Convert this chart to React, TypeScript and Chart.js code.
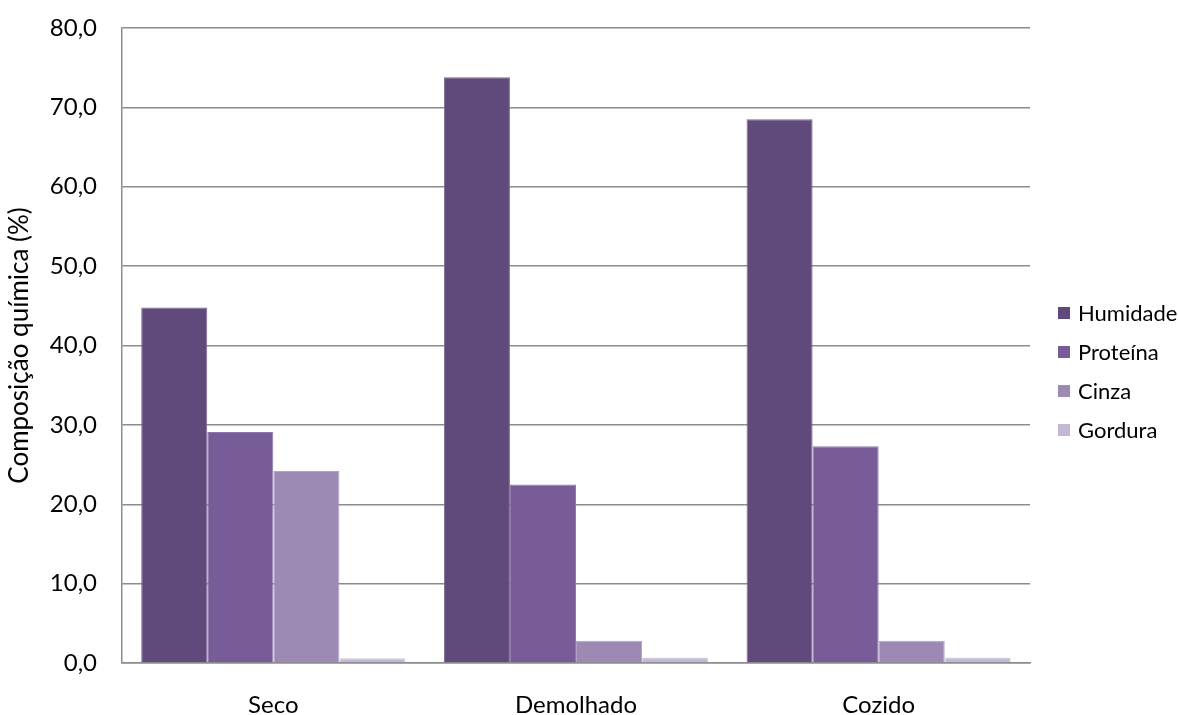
import React, { useEffect, useRef } from "react";
import { Chart, registerables } from "chart.js";

Chart.register(...registerables);

// Composição química por tratamento
const categories = ["Seco", "Demolhado", "Cozido"];
const seriesNames = ["Humidade", "Proteína", "Cinza", "Gordura"];
const humidade = [44.8, 73.8, 68.5];
const proteina = [29.1, 22.5, 27.3];
const cinza = [24.2, 2.8, 2.8];
const gordura = [0.6, 0.7, 0.7];
const seriesColors = ["#604a7b", "#775c98", "#9c8ab4", "#c3b9d4"];
const seriesBorders = ["#7a6893", "#8e78ab", "#b1a2c5", "#d4ccdf"];
const yTicks = [0, 10, 20, 30, 40, 50, 60, 70, 80];

const FONT = "Lato, 'Open Sans', sans-serif";

// Legend drawn to the right of the plot area
const sideLegend = {
  id: "sideLegend",
  afterDraw(chart: any) {
    const ctx = chart.ctx;
    ctx.save();
    ctx.font = `22px ${FONT}`;
    ctx.textBaseline = "middle";
    ctx.textAlign = "left";
    chart.data.datasets.forEach((ds: any, i: number) => {
      const y = 313 + i * 39;
      ctx.fillStyle = ds.backgroundColor;
      ctx.fillRect(1058, y - 6, 12, 12);
      ctx.fillStyle = "#000000";
      ctx.fillText(ds.label, 1078, y + 1);
    });
    ctx.restore();
  },
};

export default function App() {
  const canvasRef = useRef<HTMLCanvasElement | null>(null);

  useEffect(() => {
    const canvas = canvasRef.current;
    if (!canvas) return;
    const values = [humidade, proteina, cinza, gordura];
    const chart = new Chart(canvas, {
      type: "bar",
      data: {
        labels: categories,
        datasets: seriesNames.map((name, i) => ({
          label: name,
          data: values[i],
          backgroundColor: seriesColors[i],
          borderColor: seriesBorders[i],
          borderWidth: 1,
          borderSkipped: "bottom",
          categoryPercentage: 0.873,
          barPercentage: 1.0,
        })),
      },
      options: {
        animation: false,
        responsive: false,
        maintainAspectRatio: false,
        layout: { padding: { left: 0, right: 148, top: 28, bottom: 0 } },
        plugins: {
          legend: { display: false },
          tooltip: { enabled: false },
        },
        scales: {
          x: {
            grid: { display: false, drawTicks: false },
            border: { display: true, color: "#8c8c8c", width: 1.5 },
            ticks: {
              padding: 28,
              color: "#000000",
              font: { family: FONT, size: 24 },
            },
            afterFit(scale: any) {
              scale.height = 52;
              scale.paddingLeft = 0;
              scale.paddingRight = 0;
            },
          },
          y: {
            min: 0,
            max: 80,
            afterBuildTicks(scale: any) {
              scale.ticks = yTicks.map((v) => ({ value: v }));
            },
            grid: { color: "#8c8c8c", lineWidth: 1.5, drawTicks: false },
            border: { display: true, color: "#8c8c8c", width: 1.5 },
            ticks: {
              padding: 25,
              color: "#000000",
              font: { family: FONT, size: 24 },
              callback: (v: any) => Number(v).toFixed(1).replace(".", ","),
            },
            title: {
              display: true,
              text: "Composição química (%)",
              color: "#000000",
              font: { family: FONT, size: 26 },
              padding: { top: 4, bottom: 0 },
            },
            afterFit(scale: any) {
              scale.width = 122;
              scale.paddingTop = 0;
              scale.paddingBottom = 0;
            },
          },
        },
      },
      plugins: [sideLegend],
    });
    return () => chart.destroy();
  }, []);

  return (
    <div style={{ position: "fixed", left: 0, top: 0, width: 1178, height: 715, background: "#ffffff" }}>
      <canvas ref={canvasRef} width={1178} height={715} style={{ display: "block" }} />
    </div>
  );
}
